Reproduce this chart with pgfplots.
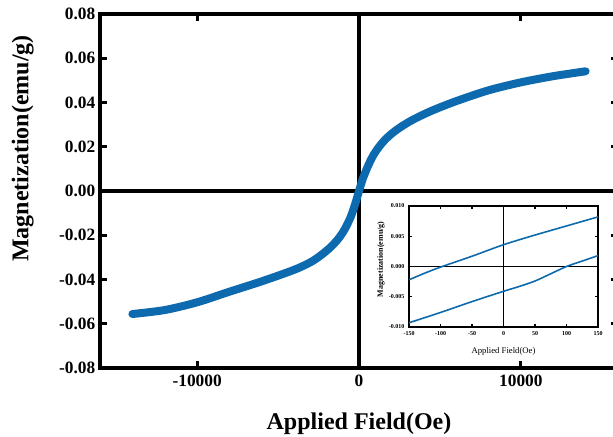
\documentclass[border=0pt]{standalone}
\usepackage{pgfplots}
\pgfplotsset{compat=1.18}
\usepackage{fontspec}
\setmainfont{Liberation Serif}
\definecolor{curve}{RGB}{14,106,174}
\begin{document}
\begin{tikzpicture}[x=1pt,y=1pt]
\useasboundingbox (0,0) rectangle (459.75,327);
\begin{axis}[
  at={(75pt,51pt)}, anchor=south west, scale only axis,
  width=388.5pt, height=265.5pt,
  xmin=-16000, xmax=16000, ymin=-0.08, ymax=0.08,
  xtick={-10000,0,10000},
  ytick={-0.08,-0.06,-0.04,-0.02,0,0.02,0.04,0.06,0.08},
  scaled ticks=false,
  /pgf/number format/assume math mode=true,
  xticklabel style={yshift=-2pt, /pgf/number format/.cd, fixed, 1000 sep={}},
  yticklabel style={/pgf/number format/.cd, fixed, fixed zerofill, precision=2},
  tick label style={font=\fontsize{13}{15}\selectfont\bfseries},
  tick align=inside, tick pos=both, major tick length=5pt,
  tick style={black, line width=2.2pt},
  axis line style={line width=3pt},
  xlabel={Applied Field(Oe)}, ylabel={Magnetization(emu/g)},
  label style={font=\fontsize{18}{21}\selectfont\bfseries},
  xlabel style={at={(axis description cs:0.5,-0.158)}, anchor=center},
  ylabel style={at={(axis description cs:-0.149,0.62)}, anchor=center},
]
\addplot[black, line width=3pt] coordinates {(-16000,0) (16000,0)};
\addplot[black, line width=3pt] coordinates {(0,-0.08) (0,0.08)};
\addplot[curve, line width=6pt, line cap=round, smooth, tension=0.5] coordinates {
(-14000,-0.0556) (-12000,-0.0538) (-10000,-0.0503) (-8000,-0.0455)
(-6000,-0.0408) (-4000,-0.0356) (-3000,-0.0322) (-2400,-0.0293) (-1800,-0.0257)
(-1300,-0.0218) (-900,-0.0175) (-500,-0.0115) (-200,-0.0050)
(0,0.0000) (250,0.0058) (550,0.0112) (850,0.0157) (1200,0.0196)
(1600,0.0231) (2100,0.0264) (2700,0.0295) (3400,0.0325) (4500,0.0363)
(6000,0.0406) (8000,0.0455) (10000,0.0491) (12000,0.0519) (14000,0.0541)
};
\end{axis}
\fill[white] (273,59.25) rectangle (454.5,180);
\begin{axis}[
  at={(306.75pt,81.75pt)}, anchor=south west, scale only axis,
  width=141.75pt, height=90.75pt,
  xmin=-150, xmax=150, ymin=-0.01, ymax=0.01,
  xtick={-150,-100,-50,0,50,100,150},
  ytick={-0.01,-0.005,0,0.005,0.01},
  scaled ticks=false,
  /pgf/number format/assume math mode=true,
  yticklabel style={/pgf/number format/.cd, fixed, fixed zerofill, precision=3},
  tick label style={font=\fontsize{4.5}{5}\selectfont\bfseries},
  tick align=inside, tick pos=both, major tick length=2.5pt,
  tick style={black, line width=1pt},
  axis line style={line width=1.1pt},
  xlabel={Applied Field(Oe)}, ylabel={\bfseries Magnetization(emu/g)},
  xlabel style={font=\fontsize{6.5}{7}\selectfont, at={(axis description cs:0.5,-0.2)}, anchor=center},
  ylabel style={font=\fontsize{6}{7}\selectfont, at={(axis description cs:-0.148,0.56)}, anchor=center},
]
\addplot[black, line width=1pt] coordinates {(-150,0) (150,0)};
\addplot[black, line width=1pt] coordinates {(0,-0.01) (0,0.01)};
\addplot[curve, line width=1.2pt, smooth] coordinates {
(-150,-0.0022) (-125,-0.0011) (-100,-0.0001) (-50,0.0017) (0,0.0036) (50,0.0052) (100,0.0067) (150,0.0082)
};
\addplot[curve, line width=1.2pt, smooth] coordinates {
(-150,-0.0093) (-100,-0.0076) (-50,-0.0058) (0,-0.0041) (25,-0.0033) (50,-0.0024) (75,-0.0012) (100,0.0000) (125,0.0009) (150,0.0018)
};
\end{axis}
\end{tikzpicture}
\end{document}
